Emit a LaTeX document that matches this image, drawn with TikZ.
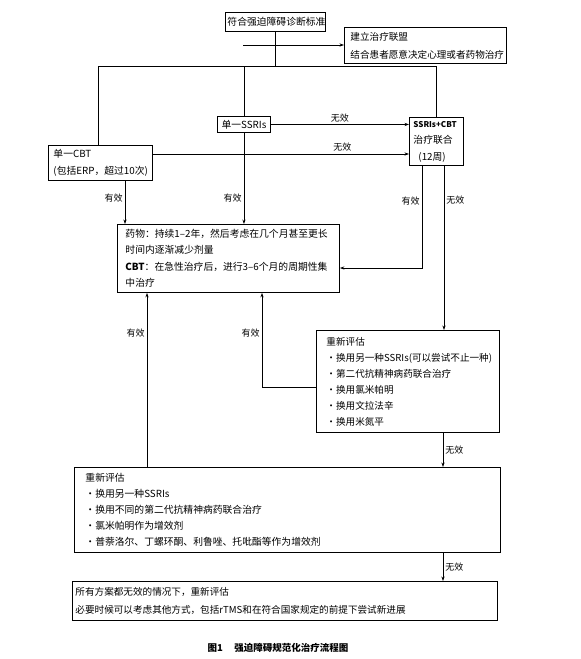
\documentclass[tikz,border=0pt]{standalone}
\usepackage{fontspec}
\setmainfont{Noto Sans CJK SC}
\usetikzlibrary{arrows.meta}
\begin{document}
\begin{tikzpicture}[x=1pt,y=-1pt,
  box/.style={draw, line width=0.9pt, anchor=north west, inner ysep=0pt, align=left,
    font=\fontsize{9.8}{16.5}\selectfont},
  conn/.style={line width=0.7pt},
  arr/.style={conn, -{Stealth[length=4.5pt,width=3.2pt]}},
  lbl/.style={font=\fontsize{9}{10}\selectfont, inner sep=2pt}]
\useasboundingbox (0,0) rectangle (581,659);

% boxes
\node[box, align=center, inner xsep=2pt, text width=96pt, minimum height=19pt] (top) at (225,12) {符合强迫障碍诊断标准};
\node[box, inner xsep=6pt, text width=150pt, minimum height=36pt, font=\fontsize{9.6}{18}\selectfont] (alli) at (344,27) {建立治疗联盟\\结合患者愿意决定心理或者药物治疗};
\node[box, align=center, inner xsep=2pt, text width=49pt, minimum height=16pt] (ssri) at (217,116) {单一SSRIs};
\node[box, inner xsep=4pt, text width=46pt, minimum height=48pt] (combo) at (409,117) {{\fontsize{8}{16.5}\selectfont\bfseries SSRIs+CBT}\\治疗联合\\\hspace*{5pt}(12周)};
\node[box, inner xsep=5pt, text width=94pt, minimum height=35pt] (cbt) at (48,145) {单一CBT\\(包括ERP，超过10次)};
\node[box, inner xsep=8pt, text width=206pt, minimum height=68pt] (drug) at (117,224) {药物：持续1–2年，然后考虑在几个月甚至更长\\时间内逐渐减少剂量\\\textbf{CBT}：在急性治疗后，进行3–6个月的周期性集\\中治疗};
\node[box, inner xsep=10pt, text width=163pt, minimum height=102pt, font=\fontsize{9.6}{16}\selectfont] (r1) at (316,330) {重新评估\\・换用另一种SSRIs(可以尝试不止一种)\\・第二代抗精神病药联合治疗\\・换用氯米帕明\\・换用文拉法辛\\・换用米氮平};
\node[box, inner xsep=11pt, text width=404pt, minimum height=85pt, font=\fontsize{9.8}{16}\selectfont] (r2) at (74,467) {重新评估\\・换用另一种SSRIs\\・换用不同的第二代抗精神病药联合治疗\\・氯米帕明作为增效剂\\・普萘洛尔、丁螺环酮、利鲁唑、托吡酯等作为增效剂};
\node[box, inner xsep=3pt, text width=419pt, minimum height=39pt, font=\fontsize{9.6}{18}\selectfont] (final) at (72,581) {所有方案都无效的情况下，重新评估\\必要时候可以考虑其他方式，包括rTMS和在符合国家规定的前提下尝试新进展};
\node[font=\fontsize{9.5}{11}\selectfont\bfseries] (cap) at (278,648) {图1\hspace{1.2em}强迫障碍规范化治疗流程图};

% helper coordinates
\coordinate (hl) at (98,66);
\coordinate (as) at (243,45);
\coordinate (yc) at (0,154);
\coordinate (xc) at (125,0);
\coordinate (xe) at (422,0);
\coordinate (ye) at (0,268);
\coordinate (xf) at (444,0);
\coordinate (yg) at (0,387);
\coordinate (xg) at (262,0);
\coordinate (xh) at (147,0);
\coordinate (xi) at (443,0);
\coordinate (hr) at (combo.north |- hl);

% connectors
\draw[conn] (top.south) -- (top.south |- hl);
\draw[conn] (hl) -- (hr);
\draw[arr] (as) -- (as -| alli.west);
\draw[conn] (hl) -- (hl |- cbt.north);
\draw[conn] (ssri.north |- hl) -- (ssri.north);
\draw[conn] (hr) -- (combo.north);
\draw[arr] (ssri.east) -- (ssri.east -| combo.west) node[lbl, midway, above] {无效};
\draw[arr] (cbt.east |- yc) -- (combo.west |- yc) node[lbl, pos=0.74, above] {无效};
\draw[arr] (xc |- cbt.south) -- (xc |- drug.north) node[lbl, pos=0.4, left] {有效};
\draw[arr] (ssri.south) -- (ssri.south |- drug.north) node[lbl, pos=0.72, left] {有效};
\draw[arr] (xe |- combo.south) -- (xe |- ye) node[lbl, pos=0.34, left] {有效} -- (drug.east |- ye);
\draw[arr] (xf |- combo.south) -- (xf |- r1.north) node[lbl, pos=0.21, right] {无效};
\draw[arr] (r1.west |- yg) -- (xg |- yg) -- (xg |- drug.south) node[lbl, pos=0.57, left] {有效};
\draw[arr] (xh |- r2.north) -- (xh |- drug.south) node[lbl, pos=0.77, left] {有效};
\draw[arr] (xi |- r1.south) -- (xi |- r2.north) node[lbl, midway, right] {无效};
\draw[arr] (xi |- r2.south) -- (xi |- final.north) node[lbl, midway, right] {无效};
\end{tikzpicture}
\end{document}
